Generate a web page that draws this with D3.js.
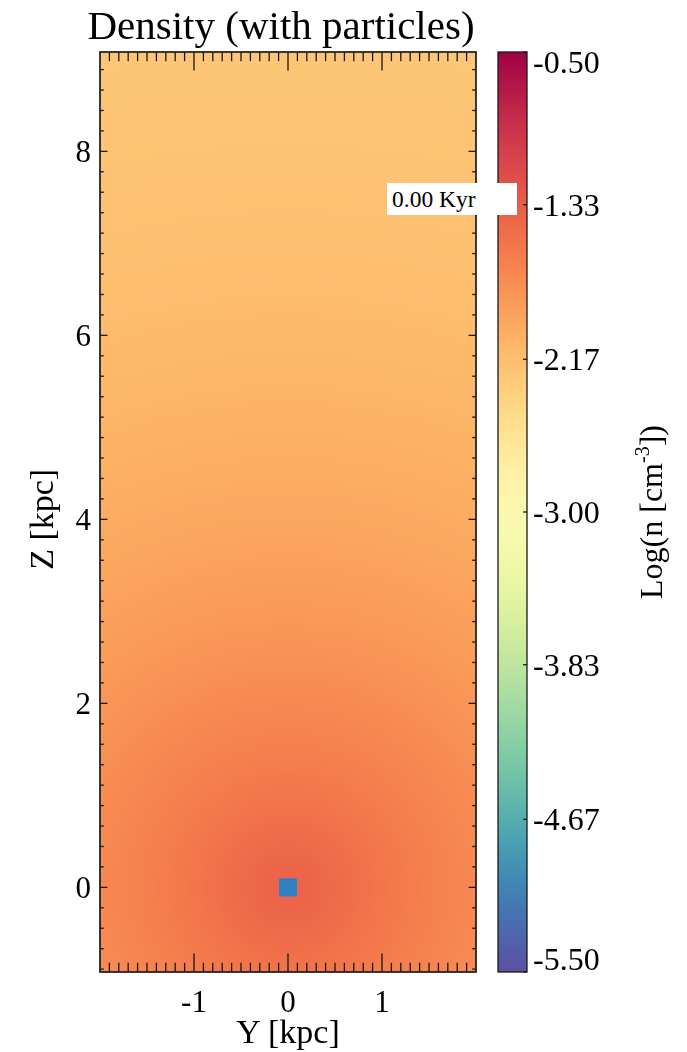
<!DOCTYPE html>
<html>
<head>
<meta charset="utf-8">
<script src="https://cdn.jsdelivr.net/npm/d3@7"></script>
<style>
  html, body { margin: 0; padding: 0; background: #fff; }
  #wrap { position: relative; width: 687px; height: 1052px; }
  #wrap canvas, #wrap svg { position: absolute; left: 0; top: 0; }
  text { font-family: "Liberation Serif", "Times New Roman", serif; fill: #000; }
</style>
</head>
<body>
<div id="wrap"></div>
<script>
// Axis extents in kpc
const yExtent = [-2, 2];
const zExtent = [-0.92, 9.08];
const yTicks = [-1, 0, 1];
const zTicks = [0, 2, 4, 6, 8];

// Radial gas density profile (distance from the centre in kpc -> log10 n)
const profileR    = [0, 0.3, 0.6, 1.0, 1.5, 2.0, 3.0, 4.0, 5.0, 6.0, 7.0, 8.0, 9.0, 9.5];
const profileLogN = [-1.37, -1.41, -1.47, -1.55, -1.64, -1.71, -1.85, -1.96, -2.05, -2.12, -2.18, -2.22, -2.25, -2.26];

// Particles (Y, Z in kpc)
const particleY = [0];
const particleZ = [0];

// Colour bar range and labels
const cbarExtent = [-5.5, -0.5];
const cbarTicks = [-5.5, -4.67, -3.83, -3.0, -2.17, -1.33, -0.5];

const timeLabel = "0.00 Kyr";

const W = 687, H = 1052;
const plot = { x0: 100, x1: 476, y0: 52, y1: 972 };
const cbar = { x0: 498, x1: 527, y0: 52, y1: 972 };

const x = d3.scaleLinear().domain(yExtent).range([plot.x0, plot.x1]);
const y = d3.scaleLinear().domain(zExtent).range([plot.y1, plot.y0]);
const color = d3.scaleSequential(t => d3.interpolateSpectral(1 - t)).domain(cbarExtent);
const profile = d3.scaleLinear().domain(profileR).range(profileLogN).clamp(true);

const wrap = d3.select("#wrap");

// Density map drawn per pixel on a canvas
const canvas = wrap.append("canvas").attr("width", W).attr("height", H).node();
const ctx = canvas.getContext("2d");
const pw = plot.x1 - plot.x0, ph = plot.y1 - plot.y0;
const img = ctx.createImageData(pw, ph);
for (let j = 0; j < ph; j++) {
  const zz = y.invert(plot.y0 + j + 0.5);
  for (let i = 0; i < pw; i++) {
    const yy = x.invert(plot.x0 + i + 0.5);
    const c = d3.rgb(color(profile(Math.hypot(yy, zz))));
    const k = (j * pw + i) * 4;
    img.data[k] = c.r; img.data[k + 1] = c.g; img.data[k + 2] = c.b; img.data[k + 3] = 255;
  }
}
ctx.putImageData(img, plot.x0, plot.y0);

const svg = wrap.append("svg").attr("width", W).attr("height", H);

// Particles
svg.append("g").selectAll("rect")
  .data(d3.zip(particleY, particleZ))
  .join("rect")
  .attr("x", d => x(d[0]) - 9)
  .attr("y", d => y(d[1]) - 9)
  .attr("width", 18).attr("height", 18)
  .attr("fill", "#2e80c2");

// Frame ticks (inward on all four sides)
const axisColor = "#1a1a1a";
const majY = 18.4, minY = 9.2;   // ticks on horizontal axes
const majZ = 7.5, minZ = 3.8;    // ticks on vertical axes
const yMinor = d3.range(-20, 21).map(d => d / 10).filter(v => v > yExtent[0] && v < yExtent[1]);
const zMinor = d3.range(-5, 46).map(d => d * 2 / 9).filter(v => v > zExtent[0] && v < zExtent[1]);

const ticks = svg.append("g").attr("stroke", axisColor).attr("stroke-width", 1.3);
yMinor.forEach(v => {
  const isMajor = yTicks.some(t => Math.abs(t - v) < 1e-6);
  const L = isMajor ? majY : minY;
  ticks.append("line").attr("x1", x(v)).attr("x2", x(v)).attr("y1", plot.y1).attr("y2", plot.y1 - L);
  ticks.append("line").attr("x1", x(v)).attr("x2", x(v)).attr("y1", plot.y0).attr("y2", plot.y0 + L);
});
zMinor.forEach(v => {
  const isMajor = zTicks.some(t => Math.abs(t - v) < 1e-6);
  const L = isMajor ? majZ : minZ;
  ticks.append("line").attr("y1", y(v)).attr("y2", y(v)).attr("x1", plot.x0).attr("x2", plot.x0 + L);
  ticks.append("line").attr("y1", y(v)).attr("y2", y(v)).attr("x1", plot.x1).attr("x2", plot.x1 - L);
});
svg.append("rect")
  .attr("x", plot.x0).attr("y", plot.y0).attr("width", pw).attr("height", ph)
  .attr("fill", "none").attr("stroke", axisColor).attr("stroke-width", 1.7);

// Tick labels
const fmtInt = v => String(v).replace("\u2212", "-");
svg.append("g").selectAll("text").data(yTicks).join("text")
  .attr("x", d => x(d)).attr("y", 1012)
  .attr("text-anchor", "middle").attr("font-size", 31)
  .text(fmtInt);
svg.append("g").selectAll("text").data(zTicks).join("text")
  .attr("x", 91).attr("y", d => y(d)).attr("dy", "0.34em")
  .attr("text-anchor", "end").attr("font-size", 31)
  .text(fmtInt);

// Axis titles
svg.append("text").attr("x", x(0)).attr("y", 1043)
  .attr("text-anchor", "middle").attr("font-size", 34).text("Y [kpc]");
svg.append("text").attr("transform", `translate(53,${y(4)}) rotate(-90)`)
  .attr("text-anchor", "middle").attr("font-size", 34).text("Z [kpc]");

// Title
svg.append("text").attr("x", 281).attr("y", 39)
  .attr("text-anchor", "middle").attr("font-size", 41).text("Density (with particles)");

// Colour bar
const cy = d3.scaleLinear().domain(cbarExtent).range([cbar.y1, cbar.y0]);
const grad = svg.append("defs").append("linearGradient")
  .attr("id", "cbarGrad").attr("x1", 0).attr("x2", 0).attr("y1", 1).attr("y2", 0);
d3.range(0, 1.0001, 0.02).forEach(t => {
  const v = cbarExtent[0] + t * (cbarExtent[1] - cbarExtent[0]);
  grad.append("stop").attr("offset", t).attr("stop-color", color(v));
});
svg.append("rect")
  .attr("x", cbar.x0).attr("y", cbar.y0)
  .attr("width", cbar.x1 - cbar.x0).attr("height", cbar.y1 - cbar.y0)
  .attr("fill", "url(#cbarGrad)").attr("stroke", axisColor).attr("stroke-width", 1.3);
svg.append("g").attr("stroke", axisColor).attr("stroke-width", 1.3)
  .selectAll("line").data(cbarTicks).join("line")
  .attr("x1", cbar.x1 - 4).attr("x2", cbar.x1)
  .attr("y1", d => cy(d)).attr("y2", d => cy(d));
svg.append("g").selectAll("text").data(cbarTicks).join("text")
  .attr("x", 533)
  .attr("y", d => cy(d))
  .attr("dy", (d, i) => i === cbarTicks.length - 1 ? "0.66em" : (i === 0 ? "-0.06em" : "0.34em"))
  .attr("font-size", 32)
  .text(d => d3.format(".2f")(d).replace("\u2212", "-"));

const cbTitle = svg.append("text")
  .attr("transform", `translate(662,${(cbar.y0 + cbar.y1) / 2}) rotate(-90)`)
  .attr("text-anchor", "middle").attr("font-size", 32);
cbTitle.append("tspan").text("Log(n [cm");
cbTitle.append("tspan").attr("font-size", 20).attr("dy", -13).text("-3");
cbTitle.append("tspan").attr("dy", 13).text("])");

// Time stamp
svg.append("rect").attr("x", 387).attr("y", 183).attr("width", 130).attr("height", 32).attr("fill", "#fff");
svg.append("text").attr("x", 392).attr("y", 207).attr("font-size", 23.5).text(timeLabel);
</script>
</body>
</html>
